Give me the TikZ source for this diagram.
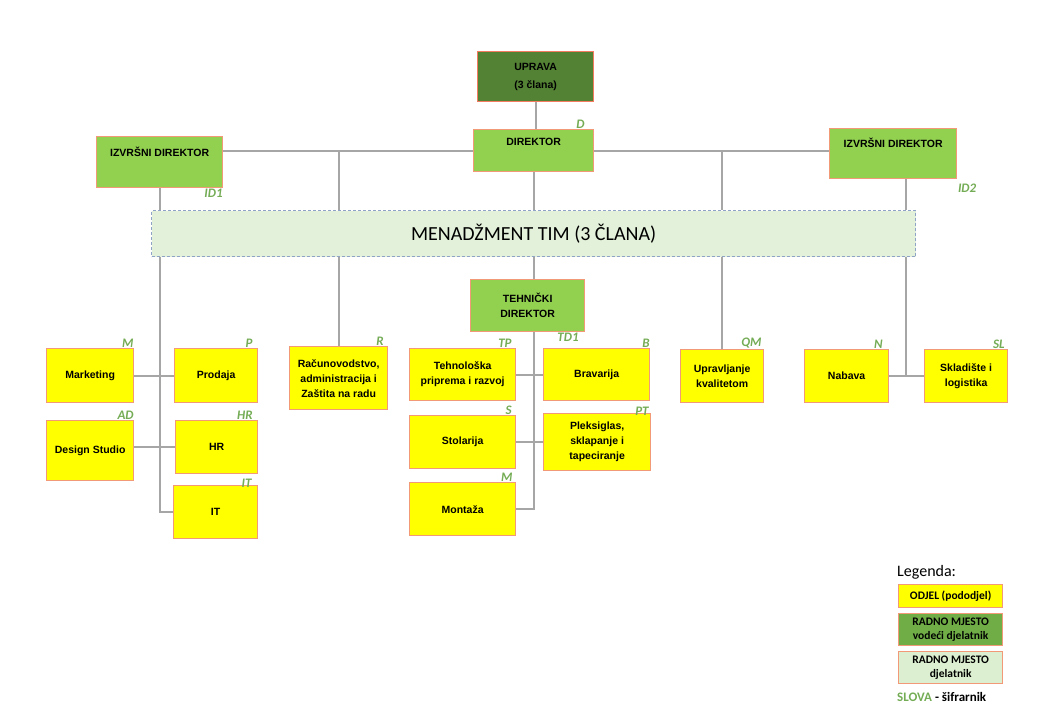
\documentclass[tikz,border=0pt]{standalone}
\usepackage{fontspec}
\setmainfont{Liberation Sans}
\newfontfamily\calibri{Carlito}
\usetikzlibrary{positioning}
\definecolor{topgreen}{HTML}{548235}
\definecolor{leadgreen}{HTML}{92D050}
\definecolor{midgreen}{HTML}{70AD47}
\definecolor{palegreen}{HTML}{DCEFD0}
\definecolor{teamgreen}{HTML}{E3F1DA}
\definecolor{deptyellow}{HTML}{FFFF00}
\definecolor{boxred}{HTML}{F29A78}
\definecolor{dashblue}{HTML}{8EA3C6}
\definecolor{codegreen}{HTML}{74AC55}
\definecolor{linegray}{HTML}{A6A6A6}

\begin{document}
\begin{tikzpicture}[x=1pt,y=-1pt,
                box/.style={draw=boxred,line width=1.3pt,inner sep=0pt,anchor=north west,align=center,font={\bfseries\fontsize{10.5}{15}\selectfont}},
                dept/.style={box,fill=deptyellow},
                lead/.style={box,fill=leadgreen},
                code/.style={font={\calibri\bfseries\itshape\fontsize{13}{13}\selectfont},text=codegreen,inner sep=0.5pt},
                conn/.style={draw=linegray,line width=2pt},
                legbox/.style={box,minimum width=104pt,font={\calibri\bfseries\fontsize{11.5}{14}\selectfont}}]
                \useasboundingbox (0,0) rectangle (1054,720);
                \node[box,fill=topgreen,draw=boxred!80!red,minimum width=116pt,minimum height=50pt,font={\bfseries\fontsize{10.5}{18}\selectfont}] (upr) at (477,51) {UPRAVA\\(3 člana)};
                \node[lead,minimum width=120pt,text height=16pt,text depth=26pt,label={[code,anchor=south east,xshift=-9pt]north east:D}] (dir) at (473,129) {DIREKTOR};
                \node[lead,minimum width=126pt,text height=20pt,text depth=31pt,label={[code,anchor=north east]south east:ID1}] (izl) at (96,136) {IZVRŠNI DIREKTOR};
                \node[lead,minimum width=127pt,text height=19pt,text depth=31pt,label={[code,anchor=north west,yshift=-4pt]south east:ID2}] (izr) at (829,128) {IZVRŠNI DIREKTOR};
                \node[draw=dashblue,fill=teamgreen,dashed,dash pattern=on 3pt off 2pt,line width=1.2pt,inner sep=0pt,anchor=north west,minimum width=764pt,minimum height=46pt,font={\calibri\fontsize{20}{20}\selectfont}] (men) at (151,210) {MENADŽMENT TIM (3 ČLANA)};
                \node[lead,minimum width=114pt,minimum height=52pt,label={[code,anchor=north east,xshift=-6pt]south east:TD1}] (teh) at (470,279) {TEHNIČKI\\DIREKTOR};
                \node[dept,minimum width=87pt,minimum height=54pt,label={[code,anchor=south east]north east:M}] (mkt) at (46,348) {Marketing};
                \node[dept,minimum width=83pt,minimum height=54pt,label={[code,anchor=south east,xshift=-5pt]north east:P}] (pro) at (174,348) {Prodaja};
                \node[dept,minimum width=87pt,minimum height=60pt,label={[code,anchor=south east]north east:AD}] (des) at (46,420) {Design Studio};
                \node[dept,minimum width=82pt,minimum height=53pt,label={[code,anchor=south east,xshift=-5pt]north east:HR}] (hr) at (175,420) {HR};
                \node[dept,minimum width=84pt,minimum height=53pt,label={[code,anchor=south east,xshift=-6pt,yshift=-3pt]north east:IT}] (it) at (173,485) {IT};
                \node[dept,minimum width=98pt,minimum height=63pt,label={[code,anchor=south east,xshift=-4pt]north east:R}] (rac) at (289,346) {Računovodstvo,\\administracija i\\Zaštita na radu};
                \node[dept,minimum width=106pt,minimum height=52pt,label={[code,anchor=south east,xshift=-4pt]north east:TP}] (tpr) at (409,348) {Tehnološka\\priprema i razvoj};
                \node[dept,minimum width=106pt,minimum height=52pt,label={[code,anchor=south east]north east:B}] (bra) at (543,348) {Bravarija};
                \node[dept,minimum width=106pt,minimum height=53pt,label={[code,anchor=south east,xshift=-4pt]north east:S}] (sto) at (409,415) {Stolarija};
                \node[dept,minimum width=107pt,minimum height=57pt,label={[code,anchor=south east,xshift=-2pt,yshift=-3pt]north east:PT}] (plx) at (543,413) {Pleksiglas,\\sklapanje i\\tapeciranje};
                \node[dept,minimum width=106pt,minimum height=53pt,label={[code,anchor=south east,xshift=-3pt]north east:M}] (mon) at (409,482) {Montaža};
                \node[dept,minimum width=83pt,minimum height=53pt,label={[code,anchor=south east,xshift=-2pt]north east:QM}] (upk) at (680,349) {Upravljanje\\kvalitetom};
                \node[dept,minimum width=84pt,minimum height=53pt,label={[code,anchor=south east,xshift=-6pt]north east:N}] (nab) at (804,349) {Nabava};
                \node[dept,minimum width=83pt,minimum height=53pt,label={[code,anchor=south east,xshift=-3pt]north east:SL}] (skl) at (924,349) {Skladište i\\logistika};
                \coordinate (izr-tap) at ([xshift=13pt]izr.south);
                \draw[conn] (upr.south) -- (upr.south |- dir.north);
                \draw[conn] (izl.east |- dir.west) -- (dir.west);
                \draw[conn] (dir.east) -- (dir.east -| izr.west);
                \draw[conn] (izl.south) -- (izl.south |- men.north);
                \draw[conn] (rac.north |- dir.west) -- (rac.north |- men.north);
                \draw[conn] (dir.south) -- (dir.south |- men.north);
                \draw[conn] (upk.north |- dir.east) -- (upk.north |- men.north);
                \draw[conn] (izr-tap) -- (izr-tap |- men.north);
                \draw[conn] (izl.south |- men.south) |- (it.west);
                \draw[conn] (mkt.east) -- (pro.west);
                \draw[conn] (hr.west -| des.east) -- (hr.west);
                \draw[conn] (rac.north |- men.south) -- (rac.north);
                \draw[conn] (dir.south |- men.south) -- (dir.south |- teh.north);
                \draw[conn] (dir.south |- teh.south) |- (mon.east);
                \draw[conn] (tpr.east) -- (bra.west);
                \draw[conn] (sto.east) -- (plx.west);
                \draw[conn] (upk.north |- men.south) -- (upk.north);
                \draw[conn] (izr-tap |- men.south) -- (izr-tap |- nab.east);
                \draw[conn] (nab.east) -- (skl.west);
                \node[anchor=west,inner sep=0pt,font={\calibri\fontsize{16}{16}\selectfont}] (leg) at (897,572) {Legenda:};
                \node[legbox,fill=deptyellow,minimum height=23pt] (odj) at (898,584) {ODJEL (pododjel)};
                \node[legbox,fill=midgreen,minimum height=32pt] (rmv) at (898,613) {RADNO MJESTO\\vodeći djelatnik};
                \node[legbox,fill=palegreen,minimum height=32pt] (rmd) at (898,651) {RADNO MJESTO\\djelatnik};
                \node[anchor=west,inner sep=0pt,font={\calibri\bfseries\fontsize{13}{13}\selectfont}] (slova) at (897,697) {\textcolor{codegreen}{SLOVA} - šifrarnik};
            \end{tikzpicture}
\end{document}
